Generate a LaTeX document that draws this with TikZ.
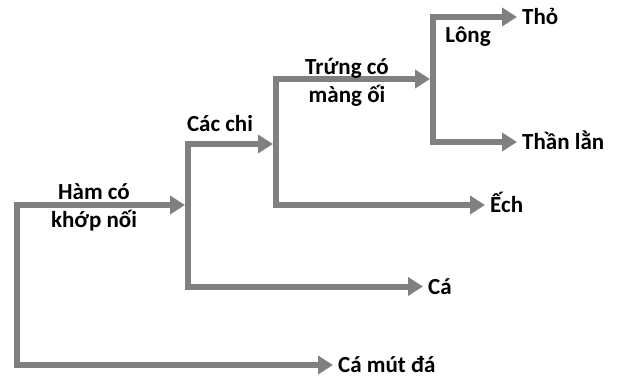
\documentclass[tikz,border=0pt]{standalone}
\usepackage{fontspec}
\setmainfont{Carlito}
\usetikzlibrary{arrows.meta}
\definecolor{cladeGray}{RGB}{128,128,128}
\tikzset{
  cladeLine/.style={draw=cladeGray, line width=6pt,
    {Triangle[length=15pt,width=18pt]}-{Triangle[length=15pt,width=18pt]}},
  taxon/.style={anchor=west, inner xsep=5pt, inner ysep=0pt,
    text height=15pt, text depth=0pt, font=\bfseries\fontsize{23}{28}\selectfont},
  trait/.style={anchor=base, align=center, inner sep=0pt,
    font=\bfseries\fontsize{23}{28}\selectfont}
}
\begin{document}
\begin{tikzpicture}[x=1pt,y=-1pt]
\useasboundingbox (0,0) rectangle (618,378);
% leaves
\node[taxon] (rabbit) at (517,17) {Thỏ};
\node[taxon] (lizard) at (517,142) {Thần lằn};
\node[taxon] (frog) at (485,205) {Ếch};
\node[taxon] (fish) at (423,286.5) {Cá};
\node[taxon] (lamprey) at (333,365) {Cá mút đá};
% tips on the next branch line
\coordinate (jawTip) at (185,205);
\coordinate (limbTip) at (273,144);
\coordinate (amnionTip) at (430,79);
% branches
\draw[cladeLine] (jawTip) -- (17,205) -- (17,365) -- (lamprey.west);
\draw[cladeLine] (limbTip) -- (188,144) -- (188,286.5) -- (fish.west);
\draw[cladeLine] (amnionTip) -- (276,79) -- (276,205) -- (frog.west);
\draw[cladeLine] (rabbit.west) -- (433,17) -- (433,142) -- (lizard.west);
% traits (base = last line)
\node[trait] (jaw) at (94,227) {Hàm có\\khớp nối};
\node[trait] (limb) at (220,131) {Các chi};
\node[trait] (amnion) at (347,102) {Trứng có\\màng ối};
\node[trait] (hair) at (468,42) {Lông};
\end{tikzpicture}
\end{document}
